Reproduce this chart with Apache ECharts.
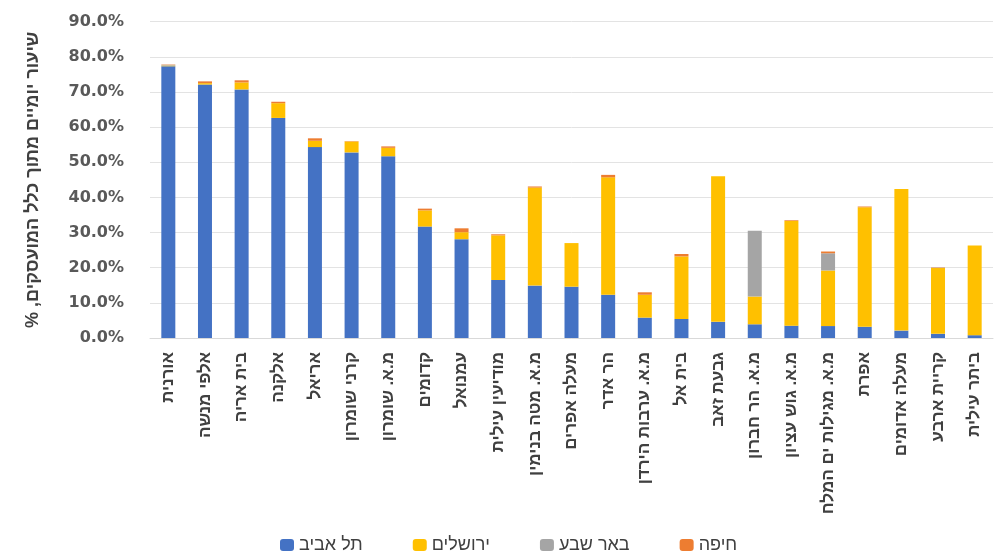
<!DOCTYPE html>
<html>
<head>
<meta charset="utf-8">
<script src="https://cdn.jsdelivr.net/npm/echarts@6/dist/echarts.min.js"></script>
<style>
html,body{margin:0;padding:0;background:#fff;}
#c{width:995px;height:556px;}
</style>
</head>
<body>
<div id="c"></div>
<script>
const categories = ['אורנית','אלפי מנשה','בית אריה','אלקנה','אריאל','קרני שומרון','מ.א. שומרון','קדומים','עמנואל','מודיעין עילית','מ.א. מטה בנימין','מעלה אפרים','הר אדר','מ.א. ערבות הירדן','בית אל','גבעת זאב','מ.א. הר חברון','מ.א. גוש עציון','מ.א. מגילות ים המלח','אפרת','מעלה אדומים','קריית ארבע','ביתר עילית'];
const seriesNames = ['תל אביב','ירושלים','באר שבע','חיפה'];
const telAviv   = [77.3,72.1,70.7,62.6,54.3,52.8,51.7,31.7,28.1,16.5,14.9,14.6,12.3,5.8,5.4,4.6,3.9,3.5,3.4,3.2,2.1,1.2,0.8];
const jerusalem = [0.2,0.4,2.0,4.2,1.8,3.1,2.4,4.6,2.0,12.7,27.9,12.4,33.4,6.5,17.8,41.4,7.9,29.8,15.8,34.0,40.3,18.7,25.5];
const beerSheva = [0.2,0,0,0,0,0,0,0,0,0,0,0,0,0,0,0,18.7,0,4.9,0,0,0.1,0];
const haifa     = [0.1,0.5,0.6,0.4,0.7,0.1,0.4,0.5,1.1,0.3,0.3,0,0.7,0.7,0.7,0,0,0.2,0.5,0.2,0,0.1,0];
const colors = ['#4472C4','#FFC000','#A5A5A5','#ED7D31'];
const yTitle = 'שיעור יומיים מתוך כלל המועסקים, %\u200F';

const chart = echarts.init(document.getElementById('c'));
const dataSets = [telAviv, jerusalem, beerSheva, haifa];
chart.setOption({
  animation:false,
  color: colors,
  grid:{left:150, right:2, top:21.6, bottom:218},
  legend:{
    left:275, top:531, itemWidth:14, itemHeight:12, itemGap:50,
    textStyle:{fontSize:18, color:'#404040', fontFamily:'Liberation Sans'},
    data: seriesNames
  },
  xAxis:{
    type:'category', data:categories,
    axisLine:{lineStyle:{color:'#d9d9d9', width:1}},
    axisTick:{show:false},
    axisLabel:{rotate:90, interval:0, margin:14, fontSize:17, fontWeight:'bold', color:'#404040', fontFamily:'Liberation Sans'}
  },
  yAxis:{
    type:'value', min:0, max:90, interval:10,
    name: yTitle, nameLocation:'middle', nameRotate:90, nameGap:108,
    nameTextStyle:{fontSize:18, fontWeight:'bold', color:'#404040', fontFamily:'Liberation Sans'},
    axisLine:{show:false}, axisTick:{show:false},
    splitLine:{lineStyle:{color:'#e3e3e3', width:1}},
    axisLabel:{margin:26, fontSize:16, fontWeight:'bold', color:'#595959', fontFamily:'DejaVu Sans, sans-serif', formatter:v=>v.toFixed(1)+'%'}
  },
  series: seriesNames.map((n,i)=>({
    name:n, type:'bar', stack:'total', barWidth:14, data:dataSets[i]
  }))
});
</script>
</body>
</html>
